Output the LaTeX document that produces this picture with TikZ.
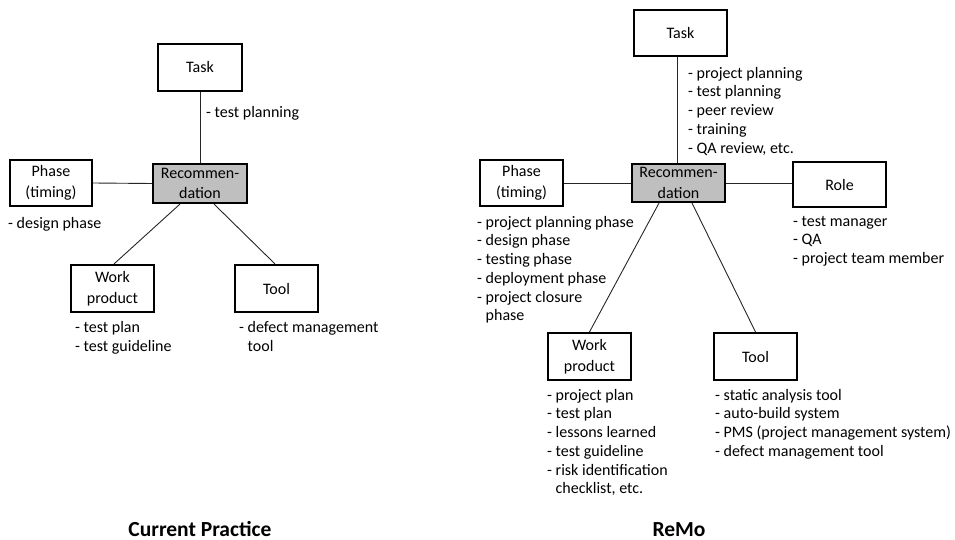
\documentclass[tikz,border=0pt]{standalone}
\usepackage{fontspec}
\setmainfont{Carlito}
\begin{document}
\begin{tikzpicture}[x=1pt,y=-1pt,
  every node/.style={font=\fontsize{16}{18.75}\selectfont},
  box/.style={draw=black, line width=1.6pt, fill=white, inner sep=0pt, align=center,
    font=\fontsize{16}{20.5}\selectfont},
  hub/.style={box, fill=black!25},
  link/.style={draw=black!85, line width=0.9pt},
  % the point given is the baseline of the first line
  items/.style={anchor=north west, align=left, inner sep=0pt, yshift=13.125pt,
    execute at begin node=\strut},
  caption/.style={anchor=base, inner sep=0pt, font=\fontsize{21.5}{25}\selectfont\bfseries}]
\useasboundingbox (0,0) rectangle (955,540);
\newcommand{\cont}{\phantom{- }}

% ---------- Current Practice ----------
\node[hub, minimum width=94.5pt, minimum height=39.5pt] (recA) at (200,183.5) {Recommen-\\dation};
\node[box, minimum width=83.5pt, minimum height=47.5pt] (taskA) at (200,67.5) {Task};
\node[box, minimum width=82.5pt, minimum height=46.5pt] (phaseA) at (51,183) {Phase\\(timing)};
\node[box, minimum width=83.5pt, minimum height=47.5pt] (workA) at (112.5,288.5) {Work\\product};
\node[box, minimum width=83.5pt, minimum height=47.5pt] (toolA) at (276.5,288.5) {Tool};

\draw[link] (recA.north) -- (taskA.south);
\draw[link] (phaseA.east) -- (recA.west);
\draw[link] ([xshift=-20pt]recA.south) -- ([xshift=1.5pt]workA.north);
\draw[link] ([xshift=14pt]recA.south) -- ([xshift=-1.5pt]toolA.north);

\node[items] (taskAitems) at (206,117) {- test planning};
\node[items] (phaseAitems) at (8,228) {- design phase};
\node[items] (workAitems) at (75,334.5) {- test plan\\- test guideline};
\node[items] (toolAitems) at (239,334.5) {- defect management\\\cont tool};

\node[caption] (capA) at (200,536) {Current Practice};

% ---------- ReMo ----------
\node[hub, minimum width=93.5pt, minimum height=38.5pt] (recB) at (678.5,183) {Recommen-\\dation};
\node[box, minimum width=93.5pt, minimum height=46.5pt] (taskB) at (680.5,33) {Task};
\node[box, minimum width=83.5pt, minimum height=46.5pt] (phaseB) at (521.5,183) {Phase\\(timing)};
\node[box, minimum width=93.5pt, minimum height=45.5pt] (roleB) at (839.5,184.5) {Role};
\node[box, minimum width=83.5pt, minimum height=47.5pt] (workB) at (589.5,356.5) {Work\\product};
\node[box, minimum width=83.5pt, minimum height=47.5pt] (toolB) at (755.5,356.5) {Tool};

\draw[link] ([xshift=-1.5pt]recB.north) -- ([xshift=-1.5pt]recB.north |- taskB.south);
\draw[link] (phaseB.east) -- (recB.west);
\draw[link] (recB.east) -- (recB.east -| roleB.west);
\draw[link] ([xshift=-19.5pt]recB.south) -- (workB.north);
\draw[link] ([xshift=13.5pt]recB.south) -- (toolB.north);

\node[items] (taskBitems) at (688,80) {- project planning\\- test planning\\- peer review\\- training\\- QA review, etc.};
\node[items] (phaseBitems) at (477,229) {- project planning phase\\- design phase\\- testing phase\\- deployment phase\\- project closure\\\cont phase};
\node[items] (roleBitems) at (793,229) {- test manager\\- QA\\- project team member};
\node[items] (workBitems) at (547,402) {- project plan\\- test plan\\- lessons learned\\- test guideline\\- risk identification\\\cont checklist, etc.};
\node[items] (toolBitems) at (715,402) {- static analysis tool\\- auto-build system\\- PMS (project management system)\\- defect management tool};

\node[caption] (capB) at (679,536) {ReMo};
\end{tikzpicture}
\end{document}
